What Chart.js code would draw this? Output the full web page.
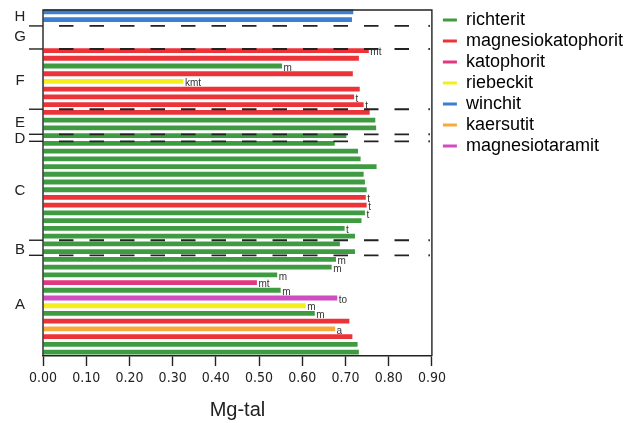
<!DOCTYPE html>
<html>
<head>
<meta charset="utf-8">
<script src="https://cdn.jsdelivr.net/npm/chart.js@4"></script>
<style>
  html, body { margin: 0; padding: 0; background: #fff; }
  #wrap { width: 634px; height: 423px; position: relative; }
</style>
</head>
<body>
<div id="wrap"><canvas id="chart"></canvas></div>
<script>
// Mg-tal per amphibole analysis, top to bottom (null = empty slot in group G)
const minerals = ['richterit', 'magnesiokatophorit', 'katophorit', 'riebeckit', 'winchit', 'kaersutit', 'magnesiotaramit'];
const mineralColors = ['#3f9b42', '#ec3338', '#e2367f', '#f5ee1e', '#3b7fcf', '#f6a93c', '#cf4dc1'];

const mgTal = [0.718, 0.715, null, null, null,
    0.754, 0.731, 0.553, 0.717, 0.325, 0.733, 0.720, 0.742,
    0.756, 0.769, 0.771, 0.702, 0.675,
    0.729, 0.735, 0.772, 0.742, 0.745, 0.749, 0.747, 0.749, 0.745, 0.737, 0.698, 0.722,
    0.687, 0.722,
    0.678, 0.668, 0.542, 0.495, 0.550, 0.681, 0.608, 0.629, 0.709, 0.676, 0.716, 0.728, 0.731];
// index into minerals
const mineralType = [4, 4, null, null, null,
    1, 1, 0, 1, 3, 1, 1, 1,
    1, 0, 0, 0, 0,
    0, 0, 0, 0, 0, 0, 1, 1, 0, 0, 0, 0,
    0, 0,
    0, 0, 0, 2, 0, 6, 3, 0, 1, 5, 1, 0, 0];
const barCodes = ['', '', '', '', '',
    'mt', '', 'm', '', 'kmt', '', 't', 't',
    '', '', '', '', '',
    '', '', '', '', '', '', 't', 't', 't', '', 't', '',
    '', '',
    'm', 'm', 'm', 'mt', 'm', 'to', 'm', 'm', '', 'a', '', '', ''];
const slots = mgTal.map((_, i) => String(i + 1));

const xTicks = [0, 0.1, 0.2, 0.3, 0.4, 0.5, 0.6, 0.7, 0.8, 0.9];

// group letters and the separators between them, in slot-index units
const groupLabels = ['H', 'G', 'F', 'E', 'D', 'C', 'B', 'A'];
const groupCenters = [0.71, 3.24, 8.95, 14.4, 16.42, 23.1, 30.76, 37.9];
const groupBreaks = [1.82, 4.80, 12.59, 15.83, 16.74, 29.53, 31.48];

const datasets = minerals.map((name, m) => ({
    label: name,
    data: mgTal.map((v, i) => (mineralType[i] === m ? v : null)),
    backgroundColor: mineralColors[m],
    borderWidth: 0,
    categoryPercentage: 1,
    barPercentage: 0.62,
}));

function slotY(scale, v) {
    const p0 = scale.getPixelForValue(0);
    const step = scale.getPixelForValue(1) - p0;
    return p0 + v * step;
}

const decorations = {
    id: 'decorations',
    afterLayout(chart) {
        // leave a small gap between the frame and the legend
        const lg = chart.legend;
        if (lg) { lg.left += 8; lg.right += 8; }
    },
    afterDatasetsDraw(chart) {
        const { ctx, chartArea: a } = chart;
        const yScale = chart.scales.y;
        ctx.save();

        // frame (top, left, right)
        ctx.strokeStyle = '#222';
        ctx.lineWidth = 1.4;
        ctx.beginPath();
        ctx.moveTo(a.left, a.bottom);
        ctx.lineTo(a.left, a.top + 2);
        ctx.lineTo(a.right, a.top + 2);
        ctx.lineTo(a.right, a.bottom);
        ctx.stroke();

        // group separators
        groupBreaks.forEach(b => {
            const y = slotY(yScale, b);
            ctx.setLineDash([]);
            ctx.lineWidth = 1.4;
            ctx.beginPath();
            ctx.moveTo(a.left - 14, y);
            ctx.lineTo(a.left, y);
            ctx.stroke();
            ctx.setLineDash([14.5, 16]);
            ctx.lineWidth = 1.8;
            ctx.beginPath();
            ctx.moveTo(a.left + 16, y);
            ctx.lineTo(a.right - 19, y);
            ctx.stroke();
            ctx.setLineDash([]);
            ctx.fillStyle = '#222';
            ctx.fillRect(a.right - 3.5, y - 1, 1.5, 2);
        });

        // group letters
        ctx.fillStyle = '#222';
        ctx.font = '15px "Liberation Sans", Arial, sans-serif';
        ctx.textAlign = 'center';
        ctx.textBaseline = 'middle';
        groupLabels.forEach((g, i) => {
            ctx.fillText(g, a.left - 23, slotY(yScale, groupCenters[i]));
        });

        // codes at bar ends
        ctx.font = '10px "Liberation Sans", Arial, sans-serif';
        ctx.textAlign = 'left';
        ctx.fillStyle = '#333';
        chart.data.datasets.forEach((ds, d) => {
            const meta = chart.getDatasetMeta(d);
            meta.data.forEach((bar, i) => {
                if (ds.data[i] == null || !barCodes[i]) return;
                ctx.fillText(barCodes[i], bar.x + 1.5, bar.y + 2);
            });
        });
        ctx.restore();
    }
};

new Chart(document.getElementById('chart'), {
    type: 'bar',
    data: { labels: slots, datasets },
    options: {
        indexAxis: 'y',
        responsive: true,
        maintainAspectRatio: false,
        animation: false,
        layout: { padding: { top: 8, left: 43, right: 9, bottom: 0 } },
        plugins: {
            tooltip: { enabled: false },
            legend: {
                position: 'right',
                align: 'start',
                labels: {
                    usePointStyle: true,
                    pointStyleWidth: 14,
                    padding: 3,
                    color: '#222',
                    font: { family: '"Liberation Sans", Arial, sans-serif', size: 18 },
                    generateLabels: () => minerals.map((name, m) => ({
                        text: name,
                        fillStyle: mineralColors[m],
                        strokeStyle: mineralColors[m],
                        lineWidth: 3,
                        pointStyle: 'line',
                        hidden: false,
                        datasetIndex: m,
                    })),
                },
            },
        },
        scales: {
            x: {
                min: 0,
                max: 0.9,
                stacked: true,
                afterBuildTicks: s => { s.ticks = xTicks.map(v => ({ value: v })); },
                afterFit: s => { s.height = 67; },
                grid: { drawOnChartArea: false, drawTicks: true, tickLength: 10, tickColor: '#222', tickWidth: 1.4 },
                border: { display: true, color: '#222', width: 1.4 },
                ticks: {
                    padding: 4,
                    color: '#222',
                    maxRotation: 0,
                    font: { family: '"Liberation Sans Narrow", "DejaVu Sans Condensed", sans-serif', size: 14 },
                    callback: v => Number(v).toFixed(2),
                },
                title: {
                    display: true,
                    text: 'Mg-tal',
                    color: '#222',
                    font: { family: '"Liberation Sans", Arial, sans-serif', size: 20 },
                    padding: { top: 0, bottom: 1 },
                },
            },
            y: {
                display: false,
                stacked: true,
            },
        },
    },
    plugins: [decorations],
});
</script>
</body>
</html>
